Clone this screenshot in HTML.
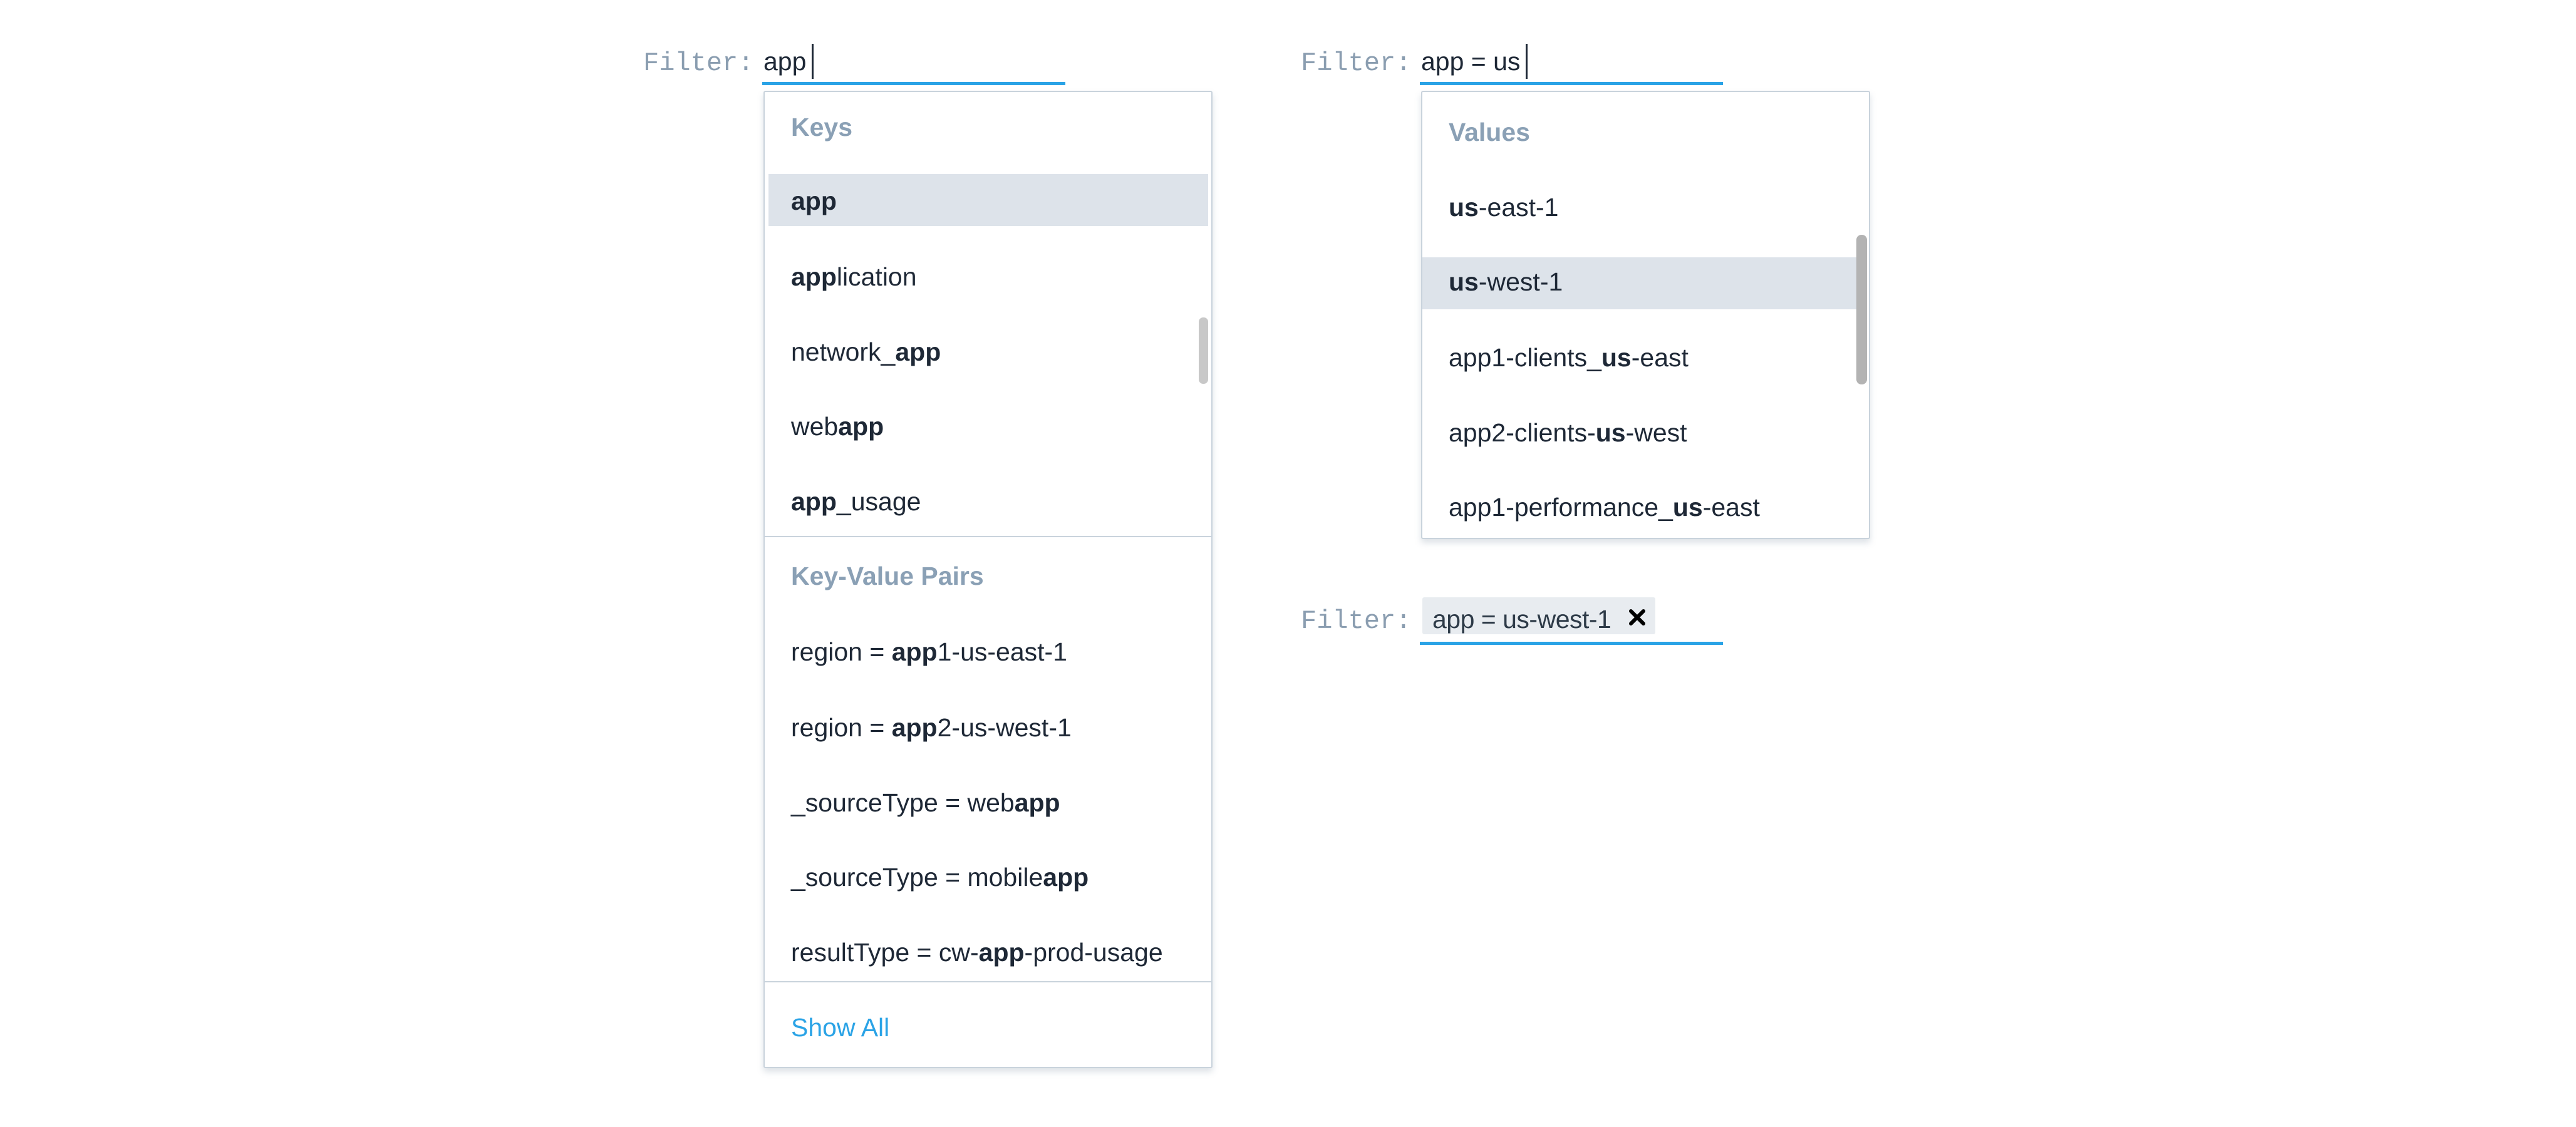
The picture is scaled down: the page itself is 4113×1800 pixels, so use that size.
<!DOCTYPE html>
<html><head><meta charset="utf-8"><style>
body{margin:0;width:4113px;height:1800px;background:#fff;position:relative;overflow:hidden;font-family:"Liberation Sans",sans-serif}
.t{position:absolute;font-size:41px;line-height:1;color:#1e2836;white-space:nowrap}
.t b{font-weight:bold}
.h{color:#8aa0b5;font-weight:bold}
.m{position:absolute;font-family:"Liberation Mono",monospace;font-size:42px;line-height:1;color:#8a9db0;white-space:nowrap}
.r{position:absolute}
</style></head><body>
<!-- Left panel -->
<div class="m" style="left:1027px;top:80px">Filter:</div>
<div class="t" style="left:1219px;top:78px">app</div>
<div class="r" style="left:1296px;top:70px;width:3px;height:56px;background:#1e2836"></div>
<div class="r" style="left:1217px;top:131px;width:484px;height:5px;background:#2aa3e6"></div>

<div class="r" style="left:1219px;top:145px;width:717px;height:1561px;border:2px solid #c9d3dc;border-radius:3px;box-shadow:0 6px 10px rgba(120,140,160,.25);background:#fff;box-sizing:border-box"></div>
<div class="r" style="left:1227px;top:278px;width:702px;height:83px;background:#dde3ea"></div>
<div class="r" style="left:1914px;top:507px;width:15px;height:106px;background:#c8c8c8;border-radius:7px"></div>
<div class="r" style="left:1220px;top:856px;width:715px;height:2px;background:#c9d3dc"></div>
<div class="r" style="left:1220px;top:1567px;width:715px;height:2px;background:#c9d3dc"></div>

<div class="t h" style="left:1263px;top:183px">Keys</div>
<div class="t" style="left:1263px;top:301px"><b>app</b></div>
<div class="t" style="left:1263px;top:422px"><b>app</b>lication</div>
<div class="t" style="left:1263px;top:542px">network_<b>app</b></div>
<div class="t" style="left:1263px;top:661px">web<b>app</b></div>
<div class="t" style="left:1263px;top:781px"><b>app</b>_usage</div>
<div class="t h" style="left:1263px;top:900px">Key-Value Pairs</div>
<div class="t" style="left:1263px;top:1021px">region = <b>app</b>1-us-east-1</div>
<div class="t" style="left:1263px;top:1142px">region = <b>app</b>2-us-west-1</div>
<div class="t" style="left:1263px;top:1262px">_sourceType = web<b>app</b></div>
<div class="t" style="left:1263px;top:1381px">_sourceType = mobile<b>app</b></div>
<div class="t" style="left:1263px;top:1501px">resultType = cw-<b>app</b>-prod-usage</div>
<div class="t" style="left:1263px;top:1621px;color:#2aa3e6">Show All</div>

<!-- Right panel -->
<div class="m" style="left:2077px;top:80px">Filter:</div>
<div class="t" style="left:2269px;top:78px">app = us</div>
<div class="r" style="left:2436px;top:70px;width:3px;height:56px;background:#1e2836"></div>
<div class="r" style="left:2267px;top:131px;width:484px;height:5px;background:#2aa3e6"></div>

<div class="r" style="left:2269px;top:145px;width:717px;height:716px;border:2px solid #c9d3dc;border-radius:3px;box-shadow:0 6px 10px rgba(120,140,160,.25);background:#fff;box-sizing:border-box"></div>
<div class="r" style="left:2271px;top:411px;width:693px;height:83px;background:#dde3ea"></div>
<div class="r" style="left:2964px;top:375px;width:17px;height:239px;background:#b3b3b3;border-radius:8px"></div>

<div class="t h" style="left:2313px;top:191px">Values</div>
<div class="t" style="left:2313px;top:311px"><b>us</b>-east-1</div>
<div class="t" style="left:2313px;top:430px"><b>us</b>-west-1</div>
<div class="t" style="left:2313px;top:551px">app1-clients_<b>us</b>-east</div>
<div class="t" style="left:2313px;top:671px">app2-clients-<b>us</b>-west</div>
<div class="t" style="left:2313px;top:790px">app1-performance_<b>us</b>-east</div>

<div class="m" style="left:2077px;top:971px">Filter:</div>
<div class="r" style="left:2271px;top:954px;width:372px;height:59px;background:#e8ecf0;border-radius:3px"></div>
<div class="t" style="left:2287px;top:969px;color:#2e3b48;letter-spacing:-0.5px">app = us-west-1</div>
<svg class="r" style="left:2600px;top:972px" width="28" height="28" viewBox="0 0 28 28"><path d="M4 4L24 24M24 4L4 24" stroke="#000" stroke-width="6" stroke-linecap="round"/></svg>
<div class="r" style="left:2267px;top:1025px;width:484px;height:5px;background:#2aa3e6"></div>
</body></html>
